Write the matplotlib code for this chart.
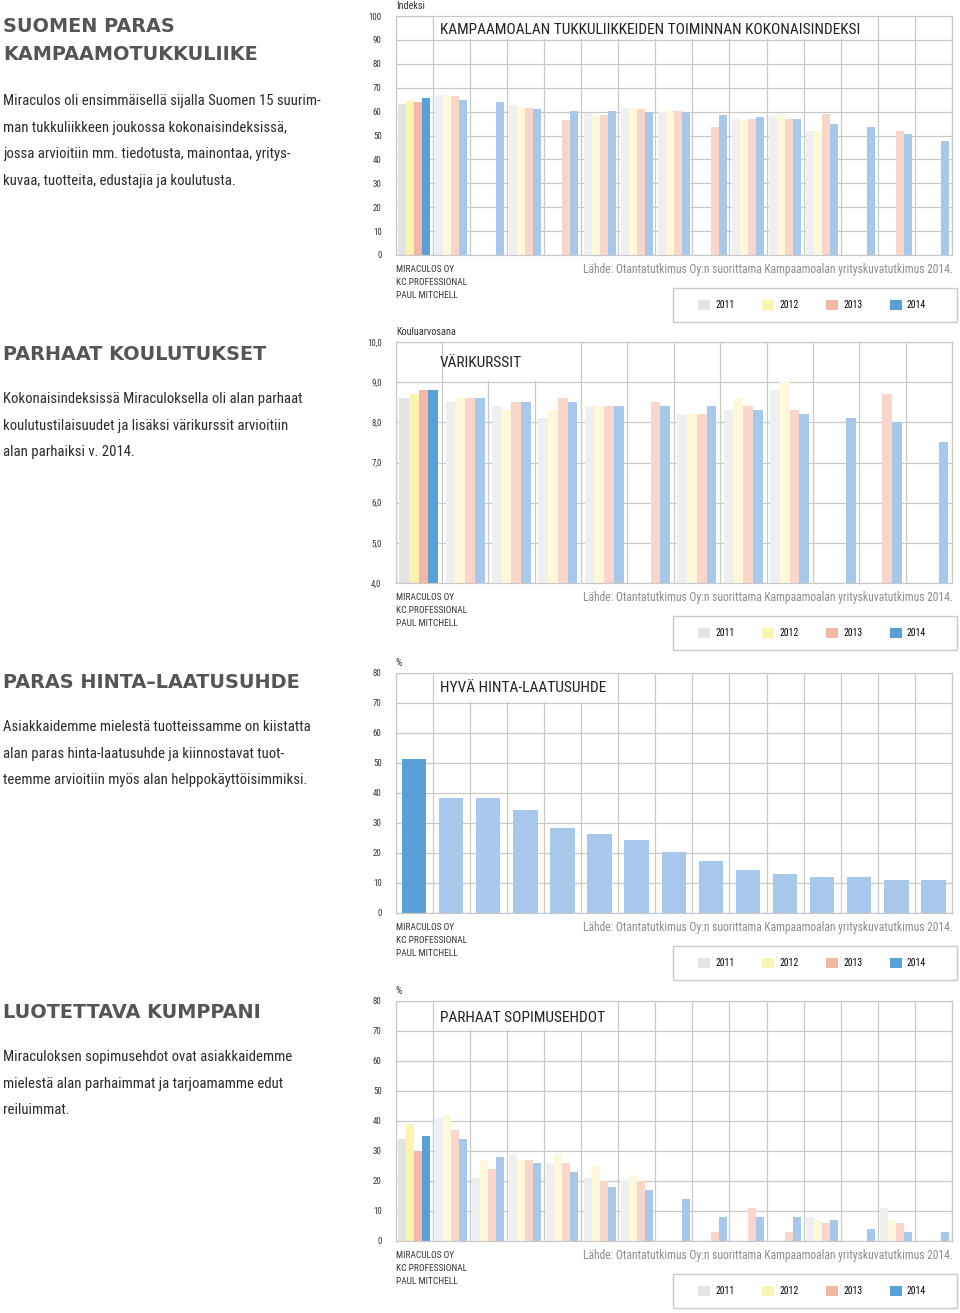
import os
import numpy as np
import matplotlib
matplotlib.use("Agg")
import matplotlib.pyplot as plt
from matplotlib import font_manager as fm
from matplotlib.font_manager import FontProperties
from matplotlib.patches import Rectangle, Patch

nan = np.nan

# legend / years
years = ["2011", "2012", "2013", "2014"]

# chart 1: kokonaisindeksi (15 companies)
index_2011 = [63.1, 67.0, nan, 62.7, nan, 59.3, 61.4, 60.0, nan, 56.9, 58.1, 51.7, nan, nan, nan]
index_2012 = [64.4, 67.0, nan, 62.1, nan, 58.1, 61.4, 60.5, nan, 56.3, 59.0, 51.7, nan, nan, nan]
index_2013 = [63.9, 66.6, nan, 61.3, 56.4, 58.6, 61.1, 60.1, 53.7, 56.9, 56.7, 59.0, nan, 51.9, nan]
index_2014 = [65.7, 64.7, 63.9, 60.9, 60.4, 60.3, 60.0, 59.3, 58.6, 57.9, 57.1, 55.0, 53.6, 50.6, 47.9]

# chart 2: värikurssit, kouluarvosana (12 companies)
course_2011 = [8.6, 8.5, 8.4, 8.1, 8.4, nan, 8.2, 8.3, 8.8, nan, nan, nan]
course_2012 = [8.7, 8.6, 8.3, 8.3, 8.4, nan, 8.2, 8.6, 9.0, nan, nan, nan]
course_2013 = [8.8, 8.6, 8.5, 8.6, 8.4, 8.5, 8.2, 8.4, 8.3, nan, 8.7, nan]
course_2014 = [8.8, 8.6, 8.5, 8.5, 8.4, 8.4, 8.4, 8.3, 8.2, 8.1, 8.0, 7.5]

# chart 3: hyvä hinta-laatusuhde, % (2014 only)
price_2014 = [51.5, 38.4, 38.4, 34.3, 28.3, 26.3, 24.2, 20.2, 17.2, 14.2, 13.1, 12.1, 12.1, 11.1, 11.1]

# chart 4: parhaat sopimusehdot, %
contract_2011 = [34, 41, 21, 29, 26, 21, 20, nan, nan, nan, nan, 8, nan, 11, nan]
contract_2012 = [39, 42, 27, 27, 29, 25, 22, nan, nan, nan, nan, 7, nan, 7, nan]
contract_2013 = [30, 37, 24, 27, 26, 20, 20, nan, 3, 11, 3, 6, nan, 6, nan]
contract_2014 = [35, 34, 28, 26, 23, 18, 17, 14, 8, 8, 8, 7, 4, 3, 3]

company_lines = ["MIRACULOS OY", "KC PROFESSIONAL", "PAUL MITCHELL"]
source = "Lähde: Otantatutkimus Oy:n suorittama Kampaamoalan yrityskuvatutkimus 2014."

sections = [
    ("SUOMEN PARAS\nKAMPAAMOTUKKULIIKE", 26, 101,
     ["Miraculos oli ensimmäisellä sijalla Suomen 15 suurim-",
      "man tukkuliikkeen joukossa kokonaisindeksissä,",
      "jossa arvioitiin mm. tiedotusta, mainontaa, yritys-",
      "kuvaa, tuotteita, edustajia ja koulutusta."]),
    ("PARHAAT KOULUTUKSET", 355, 399,
     ["Kokonaisindeksissä Miraculoksella oli alan parhaat",
      "koulutustilaisuudet ja lisäksi värikurssit arvioitiin",
      "alan parhaiksi v. 2014."]),
    ("PARAS HINTA\u2013LAATUSUHDE", 683, 727,
     ["Asiakkaidemme mielestä tuotteissamme on kiistatta",
      "alan paras hinta-laatusuhde ja kiinnostavat tuot-",
      "teemme arvioitiin myös alan helppokäyttöisimmiksi."]),
    ("LUOTETTAVA KUMPPANI", 1012, 1057,
     ["Miraculoksen sopimusehdot ovat asiakkaidemme",
      "mielestä alan parhaimmat ja tarjoamamme edut",
      "reiluimmat."]),
]

strong = ["#e3e3e3", "#fbf3b0", "#f5b7a5", "#5a9fd6"]
faded = ["#efefef", "#fdf8da", "#f9d5ca", "#a8c8eb"]
GRID = "#c9c9c9"


def find_condensed():
    files = {os.path.basename(f.fname): f.fname for f in fm.fontManager.ttflist}
    for cand in ["NotoSans-ExtraCondensed.ttf", "NotoSans-Condensed.ttf",
                 "LiberationSansNarrow-Regular.ttf", "RobotoCondensed-Regular.ttf",
                 "DejaVuSansCondensed.ttf", "NotoSans-SemiCondensed.ttf"]:
        if cand in files:
            return FontProperties(fname=files[cand])
    skip = ["bold", "italic", "light", "thin", "black", "medium", "semibold", "mono", "oblique"]
    for f in fm.fontManager.ttflist:
        b = os.path.basename(f.fname).lower()
        if ("condensed" in b or "narrow" in b) and not any(s in b for s in skip):
            return FontProperties(fname=f.fname)
    return FontProperties(family=["Roboto", "DejaVu Sans"])


COND = find_condensed()
HEAD = FontProperties(family="DejaVu Sans", weight="bold")

W, H = 960, 1313
fig = plt.figure(figsize=(W / 100, H / 100), dpi=100)
renderer = fig.canvas.get_renderer()


def sized(fp, size):
    p = fp.copy()
    p.set_size(size)
    return p


def text_width(s, fp, size):
    t = fig.text(0, 0, s, fontproperties=sized(fp, size))
    w = t.get_window_extent(renderer=renderer).width
    t.remove()
    return w


def fit(s, target_px, fp):
    return 10 * target_px / text_width(s, fp, 10)


S_BODY = fit("Miraculos oli ensimmäisellä sijalla Suomen 15 suurim-", 315, COND)
S_TITLE = fit("KAMPAAMOALAN TUKKULIIKKEIDEN TOIMINNAN KOKONAISINDEKSI", 424, COND)
S_SRC = fit(source, 369, COND)
S_COMP = fit("KC PROFESSIONAL", 71, COND)
S_TICK = fit("100", 13, COND)
S_LEG = fit("2011", 19, COND)
S_UNIT = fit("Kouluarvosana", 59, COND)
S_HEAD = fit("KAMPAAMOTUKKULIIKE", 255, HEAD)
LEG_W = text_width("2011", COND, S_LEG)


def ftext(x, y, s, fp, size, **kw):
    fig.text(x / W, 1 - y / H, s, fontproperties=sized(fp, size), **kw)


def make_axes(top, bottom, left=395.5, right=952):
    return fig.add_axes([left / W, 1 - bottom / H, (right - left) / W, (bottom - top) / H])


def style(ax, n, ymin, ymax, step, fmt, box_groups, box_line, unit, title, title_y):
    ax.set_xlim(-0.5, n - 0.5)
    ax.set_ylim(ymin, ymax)
    ax.set_xticks(np.arange(n + 1) - 0.5)
    ticks = np.arange(ymin, ymax + step / 2, step)
    ax.set_yticks(ticks)
    ax.set_yticklabels([fmt(v) for v in ticks], fontproperties=sized(COND, S_TICK))
    ax.tick_params(axis="x", length=0, labelbottom=False)
    ax.tick_params(axis="y", length=0, pad=10, labelcolor="#333333")
    ax.grid(True, color=GRID, lw=0.9)
    ax.set_axisbelow(True)
    for sp in ax.spines.values():
        sp.set_color(GRID)
        sp.set_linewidth(0.9)
    # white box behind the chart title
    pad = (ymax - ymin) * 0.004
    ax.add_patch(Rectangle((0.5 + 0.05, box_line + pad), box_groups - 0.1,
                           ymax - box_line - 2 * pad, facecolor="white",
                           edgecolor="none", zorder=1))
    bb = ax.get_position()
    top = (1 - bb.y1) * H
    bottom = (1 - bb.y0) * H
    ftext(396, top - 10, unit, COND, S_UNIT, color="#333333", va="center")
    ftext(440, title_y, title, COND, S_TITLE, color="#222222", va="center")
    for i, line in enumerate(company_lines):
        ftext(396, bottom + 15 + i * 12.7, line, COND, S_COMP, color="#333333", va="center")
    ftext(953, bottom + 14, source, COND, S_SRC, color="#8c8c8c", va="center", ha="right")
    fig.add_artist(Rectangle((673 / W, 1 - (bottom + 67) / H), 284 / W, 34 / H,
                             transform=fig.transFigure, fill=False,
                             edgecolor=GRID, lw=1))
    fs = S_LEG * 100 / 72
    handles = [Patch(facecolor=c, edgecolor="none") for c in strong]
    fig.legend(handles, years, loc="center", bbox_to_anchor=(812 / W, 1 - (bottom + 50) / H),
               ncol=4, frameon=False, handlelength=12 / fs, handleheight=12 / fs,
               handletextpad=5 / fs, columnspacing=(64 - 12 - 5 - LEG_W) / fs,
               prop=sized(COND, S_LEG))


def grouped(ax, series, width):
    n = len(series[0])
    x = np.arange(n)
    for k, vals in enumerate(series):
        cols = [strong[k]] + [faded[k]] * (n - 1)
        ax.bar(x + (k - 1.5) * width, vals, width=width, color=cols, zorder=2)


int_fmt = lambda v: f"{v:.0f}"
dec_fmt = lambda v: f"{v:.1f}".replace(".", ",")

# chart 1
ax1 = make_axes(16, 255)
grouped(ax1, [index_2011, index_2012, index_2013, index_2014], 0.215)
style(ax1, 15, 0, 100, 10, int_fmt, 12, 90, "Indeksi",
      "KAMPAAMOALAN TUKKULIIKKEIDEN TOIMINNAN KOKONAISINDEKSI", 30)

# chart 2
ax2 = make_axes(342, 583)
grouped(ax2, [course_2011, course_2012, course_2013, course_2014], 0.21)
style(ax2, 12, 4.0, 10.0, 1.0, dec_fmt, 3, 9.0, "Kouluarvosana", "VÄRIKURSSIT", 363)

# chart 3
ax3 = make_axes(673, 913)
cols3 = [strong[3]] + [faded[3]] * (len(price_2014) - 1)
ax3.bar(np.arange(len(price_2014)), price_2014, width=0.66, color=cols3, zorder=2)
style(ax3, 15, 0, 80, 10, int_fmt, 5, 70, "%", "HYVÄ HINTA-LAATUSUHDE", 688)

# chart 4
ax4 = make_axes(1001, 1241)
grouped(ax4, [contract_2011, contract_2012, contract_2013, contract_2014], 0.215)
style(ax4, 15, 0, 80, 10, int_fmt, 5, 70, "%", "PARHAAT SOPIMUSEHDOT", 1018)

# left column texts
for heading, hy, by, body in sections:
    for j, hl in enumerate(heading.split("\n")):
        ftext(3, hy + j * 29, hl, HEAD, S_HEAD, color="#555555", va="center")
    for j, line in enumerate(body):
        ftext(3, by + j * 26.7, line, COND, S_BODY, color="#2a2a2a", va="center")

fig.savefig("out.png", dpi=100)
